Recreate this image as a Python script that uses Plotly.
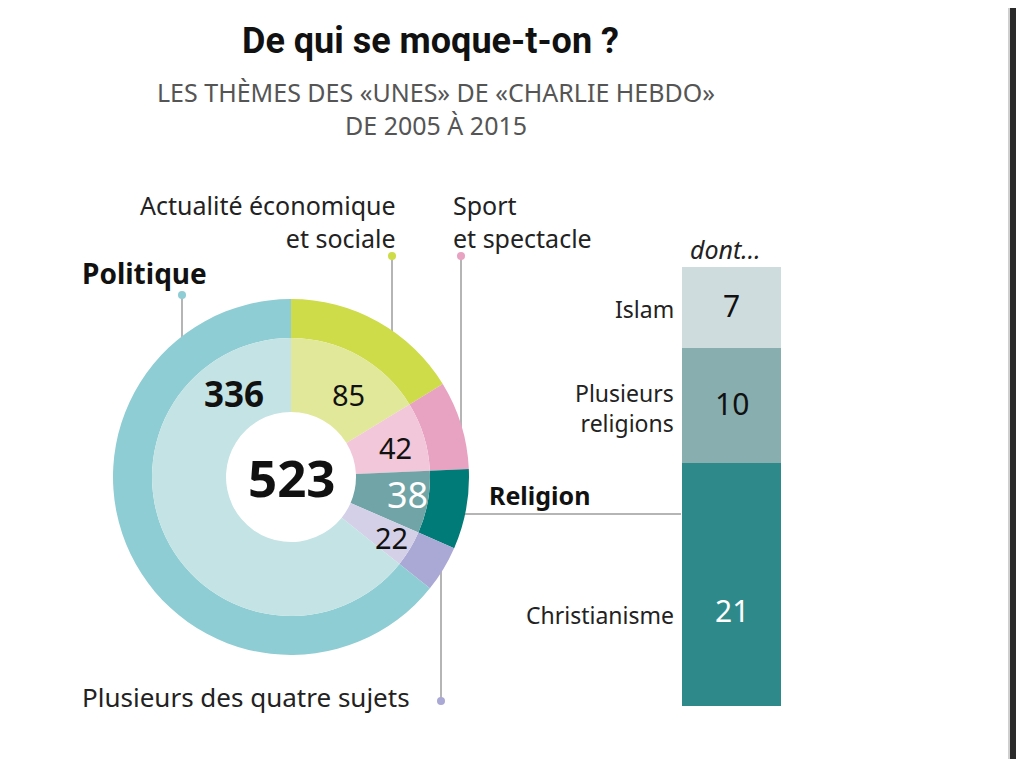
import plotly.graph_objects as go

# ---------------- data ----------------
themes = ["Actualité économique et sociale", "Sport et spectacle", "Religion",
          "Plusieurs des quatre sujets", "Politique"]
theme_values = [85, 42, 38, 22, 336]
total_label = "523"

religions = ["Christianisme", "Plusieurs religions", "Islam"]
religion_values = [21, 10, 7]

# ---------------- styles ----------------
outer_colors = ["#cddc48", "#e8a3c2", "#007b78", "#aaa8d4", "#8ecdd4"]
inner_colors = ["#e2e899", "#f1c7d9", "#71a4a6", "#d3d0e7", "#c4e3e5"]
rel_colors = ["#2e8a8a", "#88aeb0", "#cfdcde"]
rel_text_colors = ["white", "#111", "#111"]

OFF = 8  # page body margin
W, H = 1024 - OFF, 767 - 2 * OFF
def px(x): return (x - OFF) / W
def py(y): return 1 - (y - OFF) / H

CX, CY = 291, 477
R_OUT, R_MID, R_HOLE = 178, 139, 65

FONT = "Noto Sans"

fig = go.Figure()

fig.add_trace(go.Pie(
    labels=themes, values=theme_values, sort=False, direction="clockwise", rotation=0,
    hole=R_MID / R_OUT, textinfo="none", hoverinfo="label+value",
    marker=dict(colors=outer_colors, line=dict(width=0)),
    domain=dict(x=[px(CX - R_OUT), px(CX + R_OUT)], y=[py(CY + R_OUT), py(CY - R_OUT)]),
    showlegend=False,
))
fig.add_trace(go.Pie(
    labels=themes, values=theme_values, sort=False, direction="clockwise", rotation=0,
    hole=R_HOLE / R_MID, textinfo="none", hoverinfo="label+value",
    marker=dict(colors=inner_colors, line=dict(width=0)),
    domain=dict(x=[px(CX - R_MID), px(CX + R_MID)], y=[py(CY + R_MID), py(CY - R_MID)]),
    showlegend=False,
))

# stacked bar for religion detail
for name, val, col in zip(religions, religion_values, rel_colors):
    fig.add_trace(go.Bar(x=[0], y=[val], name=name, marker=dict(color=col, line=dict(width=0)),
                         width=1, xaxis="x", yaxis="y", showlegend=False, hoverinfo="name+y"))

BAR_L, BAR_R, BAR_T, BAR_B = 682, 781, 267, 706
fig.update_layout(
    barmode="stack",
    width=W, height=H,
    margin=dict(l=0, r=0, t=0, b=0),
    paper_bgcolor="white", plot_bgcolor="white",
    xaxis=dict(domain=[px(BAR_L), px(BAR_R)], range=[-0.5, 0.5], visible=False, fixedrange=True),
    yaxis=dict(domain=[py(BAR_B), py(BAR_T)], range=[0, sum(religion_values)], visible=False,
               fixedrange=True),
)

ann = []
def A(text, x, y, size, color="#222", xanchor="center", yanchor="middle", bold=False,
      italic=False, align="center", family=FONT, **kw):
    if bold:
        text = f"<b>{text}</b>"
    if italic:
        text = f"<i>{text}</i>"
    ann.append(dict(text=text, x=px(x), y=py(y), xref="paper", yref="paper", showarrow=False,
                    xanchor=xanchor, yanchor=yanchor, align=align,
                    font=dict(family=family, size=size, color=color), **kw))

# titles
A("De qui se moque-t-on ?", 430, 41, 36, color="#111", bold=True, family="Roboto")
A("LES THÈMES DES «UNES» DE «CHARLIE HEBDO»", 436, 92, 25, color="#555")
A("DE 2005 À 2015", 436, 125, 25, color="#555")

# ring values
A(str(theme_values[4]), 234, 393, 35, color="#111", bold=True)
A(str(theme_values[0]), 348, 395, 29, color="#111")
A(str(theme_values[1]), 395, 447, 29, color="#111")
A(str(theme_values[2]), 407, 494, 36, color="white")
A(str(theme_values[3]), 391, 537, 29, color="#111")
A(total_label, 292, 477, 51, color="#111", bold=True)

# category labels
A("Actualité économique<br>et sociale", 398, 222, 25, xanchor="right", align="right")
A("Sport<br>et spectacle", 451, 222, 25, xanchor="left", align="left")
A("Politique", 80, 273, 28, color="#111", xanchor="left", bold=True)
A("Religion", 487, 495, 25, color="#111", xanchor="left", bold=True)
A("Plusieurs des quatre sujets", 80, 697, 26, xanchor="left")

# bar labels
A("dont...", 725, 249, 25, italic=True)
cum = 0
for name, val, tc in zip(religions, religion_values, rel_text_colors):
    mid = cum + val / 2
    cum += val
    ys = -28 if name == "Christianisme" else 0
    ann.append(dict(text=str(val), x=0, y=mid, xref="x", yref="y", showarrow=False,
                    yshift=ys + 2, font=dict(family=FONT, size=30, color=tc)))
    ann.append(dict(text=name.replace(" ", "<br>"), x=px(676), y=mid, xref="paper", yref="y",
                    showarrow=False, xanchor="right", align="right", yshift=ys - 2,
                    font=dict(family=FONT, size=23, color="#222")))

fig.update_layout(annotations=ann)

# leader lines and dots
LC = "#b5b5b5"
shapes = []
def line(x0, y0, x1, y1):
    shapes.append(dict(type="line", xref="paper", yref="paper", x0=px(x0), y0=py(y0),
                       x1=px(x1), y1=py(y1), line=dict(color=LC, width=2), layer="below"))
def dot(x, y, col, r=4):
    shapes.append(dict(type="circle", xref="paper", yref="paper", x0=px(x - r), x1=px(x + r),
                       y0=py(y - r), y1=py(y + r), fillcolor=col, line=dict(width=0)))

line(182, 295, 182, 360); dot(182, 295, outer_colors[4])
line(392, 256, 392, 350); dot(392, 256, outer_colors[0])
line(461, 256, 461, 440); dot(461, 256, outer_colors[1])
line(441, 550, 441, 701); dot(441, 701, outer_colors[3])
line(450, 514, 681, 514)

# dark frame on right edge (screen-capture border)
shapes.append(dict(type="rect", xref="paper", yref="paper", x0=px(1008), x1=px(1010),
                   y0=-0.02, y1=1.02, fillcolor="#cfcfcf", line=dict(width=0)))
shapes.append(dict(type="rect", xref="paper", yref="paper", x0=px(1010), x1=1,
                   y0=-0.02, y1=1.02, fillcolor="#2a2a2a", line=dict(width=0)))
fig.update_layout(shapes=shapes)

fig.write_html("out.html", config=dict(displayModeBar=False))
